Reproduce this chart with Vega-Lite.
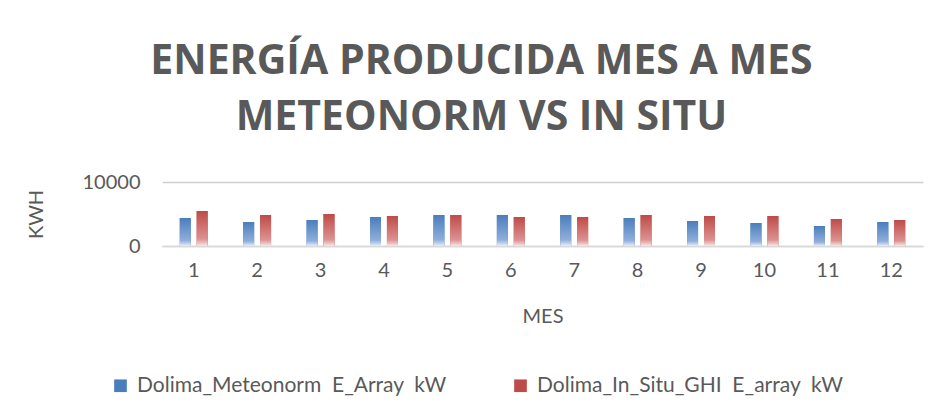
{
  "$schema": "https://vega.github.io/schema/vega-lite/v6.json",
  "width": 761,
  "height": 64,
  "autosize": "none",
  "padding": {"left": 162, "top": 182, "right": 17, "bottom": 168},
  "background": "white",
  "title": {
    "text": ["ENERGÍA PRODUCIDA MES A MES", "METEONORM VS IN SITU"],
    "font": "Open Sans",
    "fontSize": 41,
    "fontWeight": "bold",
    "color": "#595959",
    "lineHeight": 56,
    "anchor": "middle",
    "frame": "group",
    "dx": -61,
    "offset": 33
  },
  "data": {
    "values": [
      {"mes": 1, "serie": "Dolima_Meteonorm  E_Array  kW", "kwh": 4375},
      {"mes": 1, "serie": "Dolima_In_Situ_GHI  E_array  kW", "kwh": 5470},
      {"mes": 2, "serie": "Dolima_Meteonorm  E_Array  kW", "kwh": 3750},
      {"mes": 2, "serie": "Dolima_In_Situ_GHI  E_array  kW", "kwh": 4840},
      {"mes": 3, "serie": "Dolima_Meteonorm  E_Array  kW", "kwh": 4060},
      {"mes": 3, "serie": "Dolima_In_Situ_GHI  E_array  kW", "kwh": 5000},
      {"mes": 4, "serie": "Dolima_Meteonorm  E_Array  kW", "kwh": 4530},
      {"mes": 4, "serie": "Dolima_In_Situ_GHI  E_array  kW", "kwh": 4690},
      {"mes": 5, "serie": "Dolima_Meteonorm  E_Array  kW", "kwh": 4840},
      {"mes": 5, "serie": "Dolima_In_Situ_GHI  E_array  kW", "kwh": 4840},
      {"mes": 6, "serie": "Dolima_Meteonorm  E_Array  kW", "kwh": 4840},
      {"mes": 6, "serie": "Dolima_In_Situ_GHI  E_array  kW", "kwh": 4530},
      {"mes": 7, "serie": "Dolima_Meteonorm  E_Array  kW", "kwh": 4840},
      {"mes": 7, "serie": "Dolima_In_Situ_GHI  E_array  kW", "kwh": 4530},
      {"mes": 8, "serie": "Dolima_Meteonorm  E_Array  kW", "kwh": 4375},
      {"mes": 8, "serie": "Dolima_In_Situ_GHI  E_array  kW", "kwh": 4840},
      {"mes": 9, "serie": "Dolima_Meteonorm  E_Array  kW", "kwh": 3900},
      {"mes": 9, "serie": "Dolima_In_Situ_GHI  E_array  kW", "kwh": 4690},
      {"mes": 10, "serie": "Dolima_Meteonorm  E_Array  kW", "kwh": 3590},
      {"mes": 10, "serie": "Dolima_In_Situ_GHI  E_array  kW", "kwh": 4690},
      {"mes": 11, "serie": "Dolima_Meteonorm  E_Array  kW", "kwh": 3125},
      {"mes": 11, "serie": "Dolima_In_Situ_GHI  E_array  kW", "kwh": 4220},
      {"mes": 12, "serie": "Dolima_Meteonorm  E_Array  kW", "kwh": 3750},
      {"mes": 12, "serie": "Dolima_In_Situ_GHI  E_array  kW", "kwh": 4060}
    ]
  },
  "encoding": {
    "x": {
      "field": "mes",
      "type": "ordinal",
      "scale": {"paddingInner": 0.56, "paddingOuter": 0.28},
      "axis": {
        "title": "MES",
        "labelAngle": 0,
        "labelFont": "Lato",
        "labelFontSize": 20,
        "labelColor": "#595959",
        "labelPadding": 14,
        "ticks": false,
        "domainColor": "#d9d9d9",
        "domainWidth": 1.5,
        "titleFont": "Lato",
        "titleFontSize": 20,
        "titleFontWeight": "normal",
        "titleColor": "#595959",
        "titlePadding": 26
      }
    },
    "xOffset": {
      "field": "serie",
      "type": "nominal",
      "sort": ["Dolima_Meteonorm  E_Array  kW", "Dolima_In_Situ_GHI  E_array  kW"],
      "scale": {"paddingInner": 0.35, "paddingOuter": 0}
    },
    "y": {
      "field": "kwh",
      "type": "quantitative",
      "scale": {"domain": [0, 10000]},
      "axis": {
        "title": "KWH",
        "values": [0, 10000],
        "format": "d",
        "labelFont": "Lato",
        "labelFontSize": 20,
        "labelColor": "#595959",
        "labelPadding": 22,
        "ticks": false,
        "domain": false,
        "gridColor": "#d0d0d0",
        "gridWidth": 1.5,
        "titleFont": "Lato",
        "titleFontSize": 20,
        "titleFontWeight": "normal",
        "titleColor": "#595959",
        "titlePadding": 36
      }
    }
  },
  "layer": [
    {
      "mark": {"type": "bar"},
      "encoding": {
        "color": {
          "field": "serie",
          "type": "nominal",
          "sort": ["Dolima_Meteonorm  E_Array  kW", "Dolima_In_Situ_GHI  E_array  kW"],
          "scale": {
            "domain": ["Dolima_Meteonorm  E_Array  kW", "Dolima_In_Situ_GHI  E_array  kW"],
            "range": ["#4A7EBB", "#BE4B48"]
          },
          "legend": {
            "title": null,
            "orient": "none",
            "direction": "horizontal",
            "legendX": -52,
            "legendY": 193,
            "symbolType": "square",
            "symbolSize": 160,
            "symbolStrokeWidth": 0,
            "labelFont": "Lato",
            "labelFontSize": 21,
            "labelColor": "#595959",
            "labelLimit": 400,
            "labelOffset": 6,
            "columnPadding": 63,
            "labelExpr": "replace(replace(datum.label, '  ', ' \u00a0'), '  ', ' \u00a0')"
          }
        }
      }
    },
    {
      "mark": {"type": "bar"},
      "encoding": {
        "fill": {
          "condition": {
            "test": "datum.serie === 'Dolima_Meteonorm  E_Array  kW'",
            "value": {"gradient": "linear", "x1": 0, "y1": 0, "x2": 0, "y2": 1,
              "stops": [{"offset": 0, "color": "#4A7EBB"}, {"offset": 0.8, "color": "#8FAEDB"}, {"offset": 1, "color": "#E6EDF8"}]}
          },
          "value": {"gradient": "linear", "x1": 0, "y1": 0, "x2": 0, "y2": 1,
            "stops": [{"offset": 0, "color": "#BE4B48"}, {"offset": 0.8, "color": "#DB9291"}, {"offset": 1, "color": "#F8E6E6"}]}
        }
      }
    }
  ],
  "config": {
    "view": {"stroke": null}
  }
}
